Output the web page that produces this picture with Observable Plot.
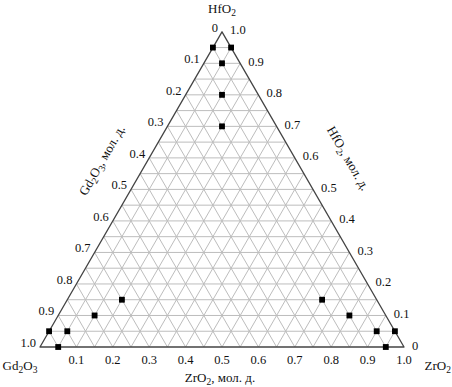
<!DOCTYPE html>
<html>
<head>
<meta charset="utf-8">
<script src="https://cdn.jsdelivr.net/npm/d3@7"></script>
<script src="https://cdn.jsdelivr.net/npm/@observablehq/plot@0.6"></script>
<style>
  html, body { margin: 0; padding: 0; background: #fff; }
  #chart svg { display: block; }
</style>
</head>
<body>
<div id="chart"></div>
<script>
// Compositions (mole fractions): Gd2O3, ZrO2, HfO2
const gd = [0.05, 0.00, 0.05, 0.10, 0.15, 0.95, 0.95, 0.90, 0.80, 0.70, 0.15, 0.10, 0.05, 0.00, 0.05];
const zr = [0.00, 0.05, 0.05, 0.10, 0.15, 0.05, 0.00, 0.05, 0.10, 0.15, 0.70, 0.80, 0.90, 0.95, 0.95];
const hf = [0.95, 0.95, 0.90, 0.80, 0.70, 0.00, 0.05, 0.05, 0.10, 0.15, 0.15, 0.10, 0.05, 0.05, 0.00];

// Grid levels and tick labels
const gridLevels = [0.05,0.1,0.15,0.2,0.25,0.3,0.35,0.4,0.45,0.5,0.55,0.6,0.65,0.7,0.75,0.8,0.85,0.9,0.95];
const leftTicks = [0, 0.1, 0.2, 0.3, 0.4, 0.5, 0.6, 0.7, 0.8, 0.9, 1.0];   // Gd2O3
const rightTicks = [0, 0.1, 0.2, 0.3, 0.4, 0.5, 0.6, 0.7, 0.8, 0.9, 1.0];  // HfO2
const bottomTicks = [0.1, 0.2, 0.3, 0.4, 0.5, 0.6, 0.7, 0.8, 0.9, 1.0];   // ZrO2

const S3 = Math.sqrt(3) / 2;
const px = (z, h) => z + h / 2;
const py = (h) => h * S3;
const fmt = v => v === 0 ? "0" : v.toFixed(1);

const points = gd.map((g, i) => ({gd: g, zr: zr[i], hf: hf[i]}));

const grid = [];
for (const t of gridLevels) {
  grid.push({x1: px(0, t), y1: py(t), x2: px(1 - t, t), y2: py(t)});         // constant HfO2
  grid.push({x1: px(t, 0), y1: py(0), x2: px(t, 1 - t), y2: py(1 - t)});     // constant ZrO2
  grid.push({x1: px(1 - t, 0), y1: py(0), x2: px(0, 1 - t), y2: py(1 - t)}); // constant Gd2O3
}
const border = [
  {x: px(0, 0), y: py(0)}, {x: px(1, 0), y: py(0)}, {x: px(0, 1), y: py(1)}, {x: px(0, 0), y: py(0)}
];

const font = "'Liberation Serif', 'Times New Roman', serif";
const ink = "#111";

const chart = Plot.plot({
  width: 452,
  height: 387,
  margin: 0,
  style: {fontFamily: font, background: "#fff"},
  x: {domain: [0, 1], range: [39.5, 403.5], axis: null},
  y: {domain: [0, S3], range: [346.5, 31.3], axis: null},
  marks: [
    Plot.link(grid, {x1: "x1", y1: "y1", x2: "x2", y2: "y2", stroke: "#bdbdbd", strokeWidth: 1}),
    Plot.line(border, {x: "x", y: "y", stroke: "#444", strokeWidth: 1.3}),
    Plot.dot(points, {x: d => px(d.zr, d.hf), y: d => py(d.hf), symbol: "square", r: 3.3, fill: "#000", stroke: null}),
    Plot.text(leftTicks, {x: g => px(0, 1 - g), y: g => py(1 - g), text: fmt, textAnchor: "end", dx: -4, dy: -4, fontSize: 12.5, fill: ink}),
    Plot.text(rightTicks, {x: h => px(1 - h, h), y: h => py(h), text: fmt, textAnchor: "start", dx: 8, dy: -1.5, fontSize: 12.5, fill: ink}),
    Plot.text(bottomTicks, {x: z => px(z, 0), y: 0, text: fmt, textAnchor: "middle", dy: 13, fontSize: 12.5, fill: ink}),
    Plot.text(["HfO₂"], {x: px(0, 1), y: py(1), text: d => d, dy: -23, fontSize: 13, fill: ink}),
    Plot.text(["Gd₂O₃"], {x: px(0, 0), y: 0, text: d => d, dx: -20, dy: 19, fontSize: 13, fill: ink}),
    Plot.text(["ZrO₂"], {x: px(1, 0), y: 0, text: d => d, textAnchor: "end", dx: 47, dy: 19, fontSize: 13, fill: ink}),
    Plot.text(["ZrO₂, мол. д."], {x: px(0.5, 0), y: 0, text: d => d, dx: -2, dy: 31, fontSize: 13, fill: ink}),
    Plot.text(["Gd₂O₃, мол. д."], {x: px(0, 0.5), y: py(0.5), text: d => d, rotate: -60, dx: -29, dy: -29, fontSize: 13, fill: ink}),
    Plot.text(["HfO₂, мол. д."], {x: px(0.5, 0.5), y: py(0.5), text: d => d, rotate: 60, dx: 35, dy: -31, fontSize: 13, fill: ink})
  ]
});

// Render Unicode subscript digits as real smaller, lowered digits
const subMap = {"₂": "2", "₃": "3"};
const NS = "http://www.w3.org/2000/svg";
chart.querySelectorAll("text").forEach(t => {
  const s = t.textContent;
  if (!/[₂₃]/.test(s)) return;
  const baseDy = t.getAttribute("dy");
  const parts = s.split(/([₂₃])/).filter(p => p !== "");
  while (t.firstChild) t.removeChild(t.firstChild);
  let shifted = false;
  parts.forEach(p => {
    const ts = document.createElementNS(NS, "tspan");
    if (subMap[p]) {
      ts.textContent = subMap[p];
      ts.setAttribute("font-size", "9.5");
      ts.setAttribute("dy", "3");
      shifted = true;
    } else {
      ts.textContent = p;
      if (shifted) { ts.setAttribute("dy", "-3"); shifted = false; }
    }
    t.appendChild(ts);
  });
  if (baseDy) t.setAttribute("dy", baseDy);
});

document.getElementById("chart").appendChild(chart);
</script>
</body>
</html>
